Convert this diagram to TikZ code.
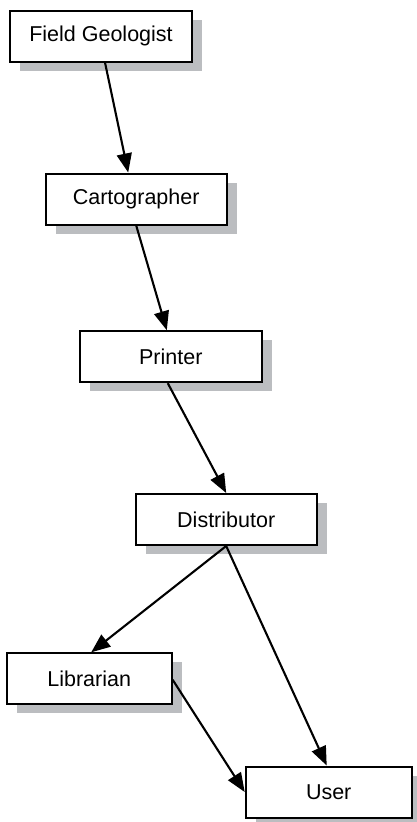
\documentclass[tikz,border=0pt]{standalone}
\usepackage{fontspec}
\setmainfont{Liberation Sans}
\usetikzlibrary{arrows.meta,shadows}
\definecolor{shadowgray}{RGB}{187,189,192}
\tikzset{>={Triangle[length=19pt,width=15pt]}}
\tikzset{role/.style={draw=black, line width=2pt, fill=white,
    minimum height=51pt, inner sep=0pt,
    font=\fontsize{21.5}{25}\selectfont,
    drop shadow={shadow xshift=10pt, shadow yshift=-9pt,
        fill=shadowgray, opacity=1}}}
\tikzset{flow/.style={->, line width=2.1pt}}

\begin{document}
\begin{tikzpicture}[x=1pt,y=-1pt]
    \useasboundingbox (0,0) rectangle (416,822);
    %boxes
    \node[role, minimum width=182pt] (geologist) at (101,36) {Field Geologist};
    \node[role, minimum width=181pt] (cartographer) at (136.2,199) {Cartographer};
    \node[role, minimum width=182pt] (printer) at (170.8,356.7) {Printer};
    \node[role, minimum width=181pt] (distributor) at (226.2,519.5) {Distributor};
    \node[role, minimum width=165pt] (librarian) at (89.2,678.8) {Librarian};
    \node[role, minimum width=166pt] (user) at (328.7,792) {User};
    %arrows
    \draw[flow] ([xshift=4pt]geologist.south) -- ([xshift=-8pt]cartographer.north);
    \draw[flow] (cartographer.south) -- ([xshift=-4pt]printer.north);
    \draw[flow] ([xshift=-3pt]printer.south) -- (distributor.north);
    \draw[flow] (distributor.south) -- ([xshift=2pt]librarian.north);
    \draw[flow] (distributor.south) -- ([xshift=-2pt]user.north);
    \draw[flow] ([yshift=-1pt]librarian.east) -- (user.west);
\end{tikzpicture}
\end{document}
